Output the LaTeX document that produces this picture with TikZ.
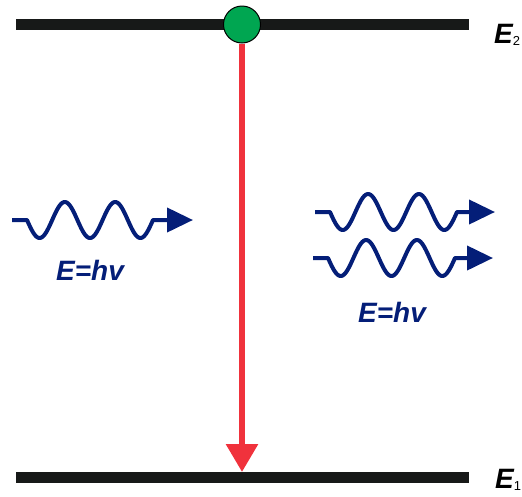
\documentclass[tikz,border=0pt]{standalone}
\usepackage{fontspec}
\setmainfont{Liberation Sans}
\usetikzlibrary{arrows.meta}
\definecolor{levelblack}{RGB}{23,25,24}
\definecolor{photonblue}{RGB}{4,30,120}
\definecolor{dropred}{RGB}{240,50,60}
\definecolor{atomgreen}{RGB}{0,166,81}
\tikzset{
  level/.style={line width=11pt, levelblack, line cap=butt},
  photon/.style={line width=4pt, photonblue, line join=round,
    -{Triangle[length=26pt,width=24pt]}},
  decay/.style={line width=6pt, dropred,
    -{Triangle[length=28pt,width=31pt]}},
  atom/.style={circle, fill=atomgreen, draw=black, line width=1pt,
    minimum size=37pt, inner sep=0pt},
  elabel/.style={anchor=base west, inner sep=0pt, font=\fontsize{28}{30}\selectfont\bfseries\itshape},
  hvlabel/.style={inner sep=0pt, photonblue, font=\fontsize{28}{30}\selectfont\bfseries\itshape}
}
\newcommand{\subsc}[1]{\raisebox{-2pt}{\fontsize{13}{14}\selectfont\upshape\mdseries #1}}
\begin{document}
\begin{tikzpicture}[x=1pt,y=-1pt]
\useasboundingbox (0,0) rectangle (522,496);
% energy levels
\coordinate (t1) at (16,24.5);
\coordinate (t2) at (469,24.5);
\coordinate (b1) at (16,477.5);
\coordinate (b2) at (469,477.5);
\draw[level] (t1) -- (t2);
\draw[level] (b1) -- (b2);
\node[elabel] (E2) at (494,43) {E\subsc{2}};
\node[elabel] (E1) at (495,488) {E\subsc{1}};
% atom and decay
\node[atom] (atom) at (242,24.5) {};
\coordinate (land) at (242,472);
\draw[decay] (atom.south) -- (land);
% incoming photon
\coordinate (inS) at (12,220);
\coordinate (inE) at (193,220);
\draw[photon] (inS) -- (27,220)
  -- plot[domain=0:126, samples=120, smooth] ({27+\x},{220+18*sin(\x/50.4*360)})
  -- (inE);
\node[hvlabel] (hv1) at (90,270) {E=hv};
% outgoing photons
\coordinate (o1S) at (315,212);
\coordinate (o1E) at (495,212);
\draw[photon] (o1S) -- (330,212)
  -- plot[domain=0:127, samples=120, smooth] ({330+\x},{212+18*sin(\x/50.8*360)})
  -- (o1E);
\coordinate (o2S) at (313,258);
\coordinate (o2E) at (493,258);
\draw[photon] (o2S) -- (328,258)
  -- plot[domain=0:127, samples=120, smooth] ({328+\x},{258+18*sin(\x/50.8*360)})
  -- (o2E);
\node[hvlabel] (hv2) at (392,312) {E=hv};
\end{tikzpicture}
\end{document}
